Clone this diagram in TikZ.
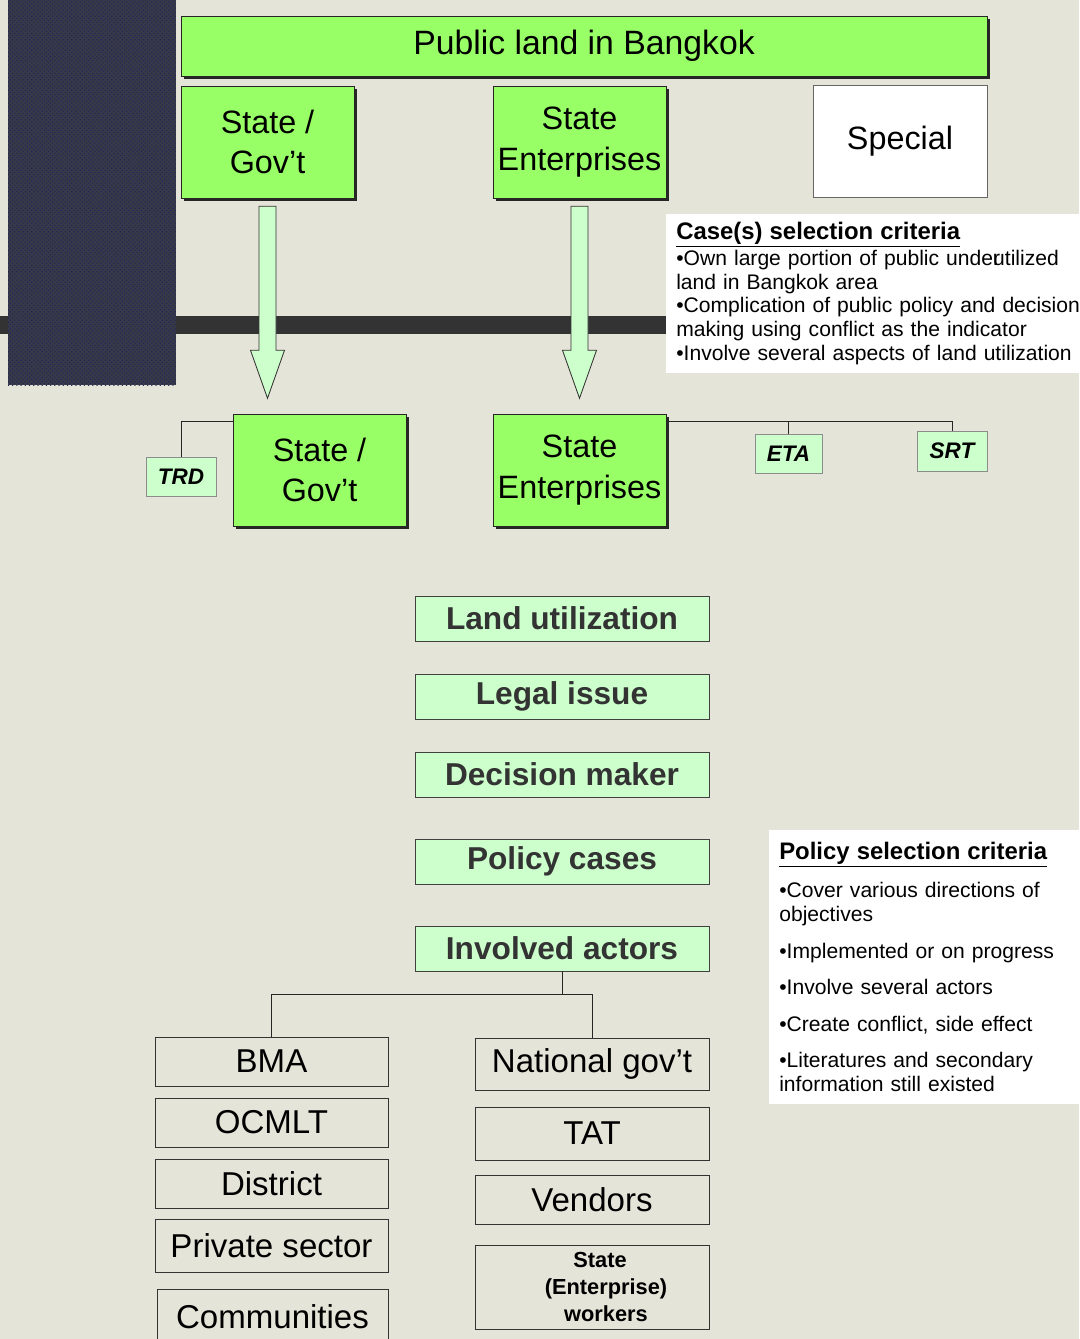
\documentclass[tikz,border=0pt]{standalone}
\usepackage{fontspec}
\setmainfont{Liberation Sans}
\usetikzlibrary{positioning, calc, shadows, patterns}

\definecolor{bgpaper}{RGB}{228,228,216}
\definecolor{boxgreen}{RGB}{153,255,102}
\definecolor{palegreen}{RGB}{204,255,204}
\definecolor{darkbar}{RGB}{51,51,51}
\definecolor{navyblock}{RGB}{55,57,72}
\definecolor{navydot}{RGB}{30,38,90}

\begin{document}
\begin{tikzpicture}[x=0.025cm, y=-0.025cm,
    greenbox/.style={draw=black!85, fill=boxgreen, align=center, inner sep=0pt,
        minimum width=4.325cm, minimum height=2.8cm, font=\fontsize{23}{29}\selectfont,
        drop shadow={shadow xshift=0.07cm, shadow yshift=-0.07cm, fill=black!85, opacity=1}},
    tagbox/.style={draw=black!45, fill=palegreen, inner sep=0pt, minimum height=0.975cm,
        font=\fontsize{16}{18}\selectfont\bfseries\itshape},
    topicbox/.style={draw=black!75, fill=palegreen, inner sep=0pt, minimum width=7.35cm,
        minimum height=1.125cm, text=black!80, font=\fontsize{22.5}{25}\selectfont\bfseries},
    actorbox/.style={draw=black!80, inner sep=0pt, align=center, font=\fontsize{23.5}{27}\selectfont},
    notebox/.style={fill=white, anchor=north west, align=left, inner xsep=0.25cm,
        inner ysep=0.2cm, font=\fontsize{15}{17}\selectfont},
    blockarrow/.style={draw=black!80, fill=palegreen, line width=0.6pt},
    link/.style={draw=black!85, line width=0.6pt}]

    % Page and background
    \clip (0,0) rectangle (1079,1339);
    \fill[bgpaper] (0,0) rectangle (1079,1339);

    % Dark bar and dotted block on the left
    \fill[darkbar] (0,316) rectangle (666,334);
    \fill[navyblock] (8,0) rectangle (176,385);
    \fill[pattern=crosshatch dots, pattern color=navydot] (8,0) rectangle (176,385);

    % Top row
    \node[greenbox, minimum width=20.15cm, minimum height=1.5cm, font=\fontsize{24}{28}\selectfont] (title) at (584,46) {Public land in Bangkok};
    \node[greenbox] (sg1) at (267.5,142) {State /\\Gov’t};
    \node[greenbox] (se1) at (579.5,142) {State\\Enterprises};
    \node[draw=black!60, fill=white, inner sep=0pt, minimum width=4.35cm, minimum height=2.8cm,
        font=\fontsize{23}{29}\selectfont] (special) at (900,141) {Special};

    % Case selection criteria
    \node[notebox, text width=10.6cm, minimum height=3.975cm] (casecrit) at (666,214)
        {{\fontsize{17}{17}\selectfont\bfseries\underline{Case(s) selection criteria}}\\[1pt]
         •Own large portion of public unde\rlap{r}utilized\\
         land in Bangkok area\\
         •Complication of public policy and decision\\
         making using conflict as the indicator\\
         •Involve several aspects of land utilization};

    % Second row
    \node[greenbox] (sg2) at (319.5,470) {State /\\Gov’t};
    \node[greenbox] (se2) at (579.5,470) {State\\Enterprises};
    \node[tagbox, minimum width=1.75cm] (trd) at (181,476.5) {TRD};
    \node[tagbox, minimum width=1.675cm] (eta) at (788.5,453.5) {ETA};
    \node[tagbox, minimum width=1.75cm, minimum height=1cm] (srt) at (952,451) {SRT};

    % Block arrows
    \draw[blockarrow, shift={(sg1.south)}] (-8.5,8) -- (8.5,8) -- (8.5,152) -- (17,152)
        -- (0,200) -- (-17,152) -- (-8.5,152) -- cycle;
    \draw[blockarrow, shift={(se1.south)}] (-8.5,8) -- (8.5,8) -- (8.5,152) -- (17,152)
        -- (0,200) -- (-17,152) -- (-8.5,152) -- cycle;

    % Links of the second row
    \coordinate (sgjoin) at ($(sg2.north west)+(0,8)$);
    \coordinate (sejoin) at ($(se2.north east)+(0,8)$);
    \draw[link] (trd.north) |- (sgjoin);
    \draw[link] (sejoin) -| (srt.north);
    \draw[link] (eta.north) -- (eta.north |- sejoin);

    % Topics
    \node[topicbox] (land) at (562,618.5) {Land utilization};
    \node[topicbox] (legal) at (562,696.5) {Legal issue};
    \node[topicbox] (decide) at (562,774.5) {Decision maker};
    \node[topicbox] (policy) at (562,861.5) {Policy cases};
    \node[topicbox] (actors) at (562,948.5) {Involved actors};

    % Policy selection criteria
    \node[notebox, text width=8cm, inner ysep=0.3cm, minimum height=6.7cm] (polcrit) at (769,830)
        {{\fontsize{17}{17}\selectfont\bfseries\underline{Policy selection criteria}}\\[10pt]
         •Cover various directions of\\
         objectives\\[9pt]
         •Implemented or on progress\\[9pt]
         •Involve several actors\\[9pt]
         •Create conflict, side effect\\[9pt]
         •Literatures and secondary\\
         information still existed};

    % Actors, left column
    \node[actorbox, minimum width=5.825cm, minimum height=1.225cm] (bma) at (271.5,1061.5) {BMA};
    \node[actorbox, minimum width=5.825cm, minimum height=1.225cm] (ocmlt) at (271.5,1122.5) {OCMLT};
    \node[actorbox, minimum width=5.825cm, minimum height=1.225cm] (district) at (271.5,1183.5) {District};
    \node[actorbox, minimum width=5.825cm, minimum height=1.325cm] (private) at (271.5,1245.5) {Private sector};
    \node[actorbox, minimum width=5.775cm, minimum height=1.4cm] (commun) at (272.5,1317) {Communities};

    % Actors, right column
    \node[actorbox, minimum width=5.85cm, minimum height=1.3cm] (natgov) at (592,1064) {National gov’t};
    \node[actorbox, minimum width=5.85cm, minimum height=1.325cm] (tat) at (592,1133.5) {TAT};
    \node[actorbox, minimum width=5.85cm, minimum height=1.225cm] (vendors) at (592,1199.5) {Vendors};
    \node[actorbox, minimum width=5.85cm, minimum height=2.1cm,
        font=\fontsize{15.5}{19}\selectfont\bfseries] (workers) at (592,1287) {\hspace{0.4cm}State\\\hspace{0.7cm}(Enterprise)\\\hspace{0.7cm}workers};

    % Tree under the actors box
    \coordinate (split) at ($(actors.south)+(0,23)$);
    \draw[link] (actors.south) -- (split);
    \draw[link] (bma.north) |- (natgov.north |- split) -- (natgov.north);
\end{tikzpicture}
\end{document}
